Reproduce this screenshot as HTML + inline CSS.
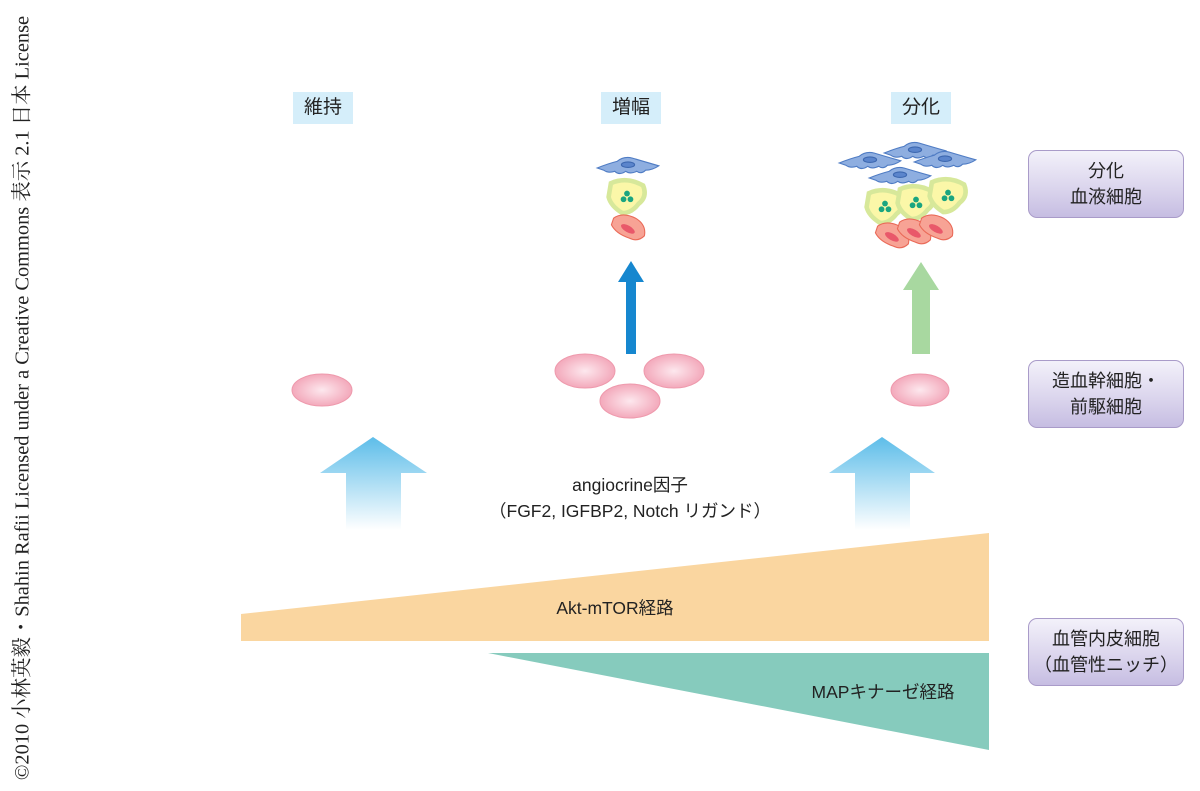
<!DOCTYPE html>
<html><head><meta charset="utf-8"><style>
body{margin:0;width:1200px;height:791px;background:#fff;position:relative;overflow:hidden;font-family:"Liberation Sans","Noto Sans CJK JP",sans-serif}
.lab{position:absolute;background:#d5eefa;font-size:19px;color:#222;text-align:center;line-height:32px;height:32px;top:92px;width:60px}
.box{position:absolute;left:1028px;width:156px;height:68px;border:1px solid #a99bc9;border-radius:9px;background:linear-gradient(#f3f1fa,#d9d3ec 60%,#c6bde2);font-size:18px;color:#222;text-align:center;line-height:26px;display:flex;align-items:center;justify-content:center;box-sizing:border-box}
.vt{position:absolute;left:20px;top:398px;transform:translate(-50%,-50%) rotate(-90deg);white-space:nowrap;font-family:"Liberation Serif","Noto Serif CJK SC",serif;font-size:20.4px;color:#222}
.t{position:absolute;font-size:17.5px;color:#222;white-space:nowrap;transform:translateX(-50%)}
</style></head><body>
<div class="vt">©2010 小林英毅・Shahin Rafii Licensed under a Creative Commons 表示 2.1 日本 License</div>
<div class="lab" style="left:293px">維持</div>
<div class="lab" style="left:601px">増幅</div>
<div class="lab" style="left:891px">分化</div>
<div class="box" style="top:150px">分化<br>血液細胞</div>
<div class="box" style="top:360px">造血幹細胞・<br>前駆細胞</div>
<div class="box" style="top:618px">血管内皮細胞<br>（血管性ニッチ）</div>
<svg width="1200" height="791" style="position:absolute;left:0;top:0">
<defs>
<radialGradient id="pk"><stop offset="0" stop-color="#fde8ee"/><stop offset="1" stop-color="#f3a9bb"/></radialGradient>
<linearGradient id="bl" x1="0" y1="0" x2="0" y2="1"><stop offset="0" stop-color="#5dbde9"/><stop offset="1" stop-color="#fff"/></linearGradient>
<g id="ec"><path d="M-28,0 Q-18,-4 -10,-6 Q-4,-11 4,-9 Q14,-6 28,-2 Q22,2 16,2 Q12,6 8,3 Q2,6 -2,3 Q-8,7 -12,3 Q-18,5 -22,2 Z" fill="#8eaee0" stroke="#4f7cc4" stroke-width="1"/><ellipse cx="0" cy="-3" rx="6" ry="2.5" fill="#5b85cc" stroke="#3d68b0"/></g>
<g id="yc"><path d="M-14,-12 Q0,-18 14,-10 Q18,0 10,6 Q4,14 -4,14 Q-14,8 -16,0 Z" fill="#fbf7a8" stroke="#d7e89a" stroke-width="4"/><circle cx="0" cy="-3" r="2.5" fill="#1aa580"/><circle cx="-3" cy="2" r="2.5" fill="#1aa580"/><circle cx="3" cy="2" r="2.5" fill="#1aa580"/></g>
<g id="rc"><path d="M-14,-8 Q-6,-14 6,-8 Q16,-2 14,8 Q8,14 0,10 Q-12,6 -16,-2 Z" fill="#f7a395" stroke="#ea6a58" stroke-width="1"/><ellipse cx="0" cy="2" rx="7" ry="3" transform="rotate(30)" fill="#e9586a"/></g>
</defs>
<ellipse cx="322" cy="390" rx="30" ry="16" fill="url(#pk)" stroke="#ee99ac"/>
<ellipse cx="585" cy="371" rx="30" ry="17" fill="url(#pk)" stroke="#ee99ac"/>
<ellipse cx="674" cy="371" rx="30" ry="17" fill="url(#pk)" stroke="#ee99ac"/>
<ellipse cx="630" cy="401" rx="30" ry="17" fill="url(#pk)" stroke="#ee99ac"/>
<ellipse cx="920" cy="390" rx="29" ry="16" fill="url(#pk)" stroke="#ee99ac"/>
<g transform="translate(628,168) scale(1.1)"><use href="#ec"/></g>
<g transform="translate(627,197) scale(1.15)"><use href="#yc"/></g>
<g transform="translate(629,227) scale(1.1)"><use href="#rc"/></g>
<g transform="translate(915,153) scale(1.1)"><use href="#ec"/></g>
<g transform="translate(870,163) scale(1.1)"><use href="#ec"/></g>
<g transform="translate(945,162) scale(1.1)"><use href="#ec"/></g>
<g transform="translate(900,178) scale(1.1)"><use href="#ec"/></g>
<g transform="translate(885,207) scale(1.15)"><use href="#yc"/></g>
<g transform="translate(916,203) scale(1.15)"><use href="#yc"/></g>
<g transform="translate(948,196) scale(1.15)"><use href="#yc"/></g>
<g transform="translate(893,235) scale(1.1)"><use href="#rc"/></g>
<g transform="translate(915,231) scale(1.1)"><use href="#rc"/></g>
<g transform="translate(937,227) scale(1.1)"><use href="#rc"/></g>
<path d="M626,354V282H618L631,261L644,282H636V354Z" fill="#1687cf"/>
<path d="M912,354V290H903L921,262L939,290H930V354Z" fill="#a8d8a0"/>
<path d="M346,530V473H320L373,437L427,473H401V530Z" fill="url(#bl)"/>
<path d="M855,530V473H829L882,437L935,473H910V530Z" fill="url(#bl)"/>
<polygon points="241,614 989,533 989,641 241,641" fill="#fad6a0"/>
<polygon points="488,653 989,653 989,750" fill="#86cbbd"/>
</svg>
<div class="t" style="left:630px;top:472px">angiocrine因子</div>
<div class="t" style="left:630px;top:498px">（FGF2, IGFBP2, Notch リガンド）</div>
<div class="t" style="left:615px;top:595px">Akt-mTOR経路</div>
<div class="t" style="left:883px;top:679px">MAPキナーゼ経路</div>
</body></html>
